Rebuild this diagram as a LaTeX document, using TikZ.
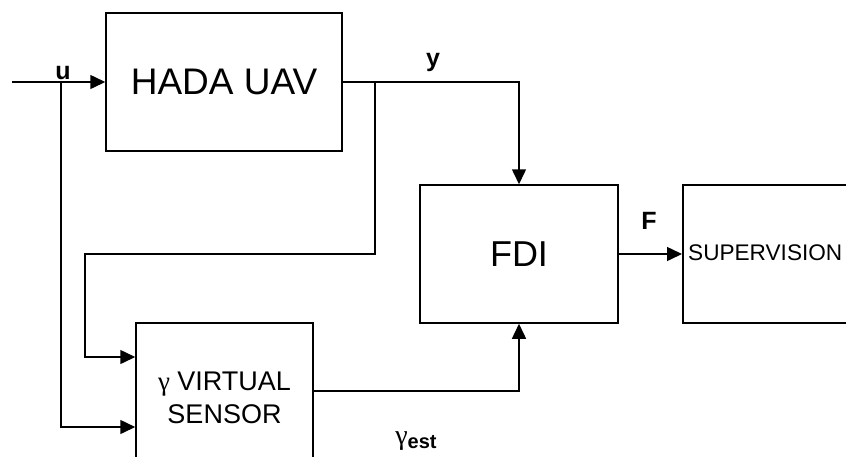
\documentclass[tikz,border=0pt]{standalone}
\usepackage{fontspec}
\setmainfont{Liberation Sans}
\newfontfamily\grk{Liberation Serif}
\usetikzlibrary{arrows.meta,calc}
\begin{document}
\begin{tikzpicture}[x=1pt,y=-1pt,
  blk/.style={draw,line width=1.5pt,inner sep=0pt},
  wire/.style={line width=1.5pt},
  arr/.style={wire,-{Triangle[length=15pt,width=14pt]}},
  lbl/.style={font=\fontsize{25}{25}\selectfont\bfseries,inner sep=0pt}]
\useasboundingbox (0,0) rectangle (846,456);
\clip (0,0) rectangle (846,456);
\node[blk,minimum width=236pt,minimum height=138pt,font=\fontsize{37}{37}\selectfont] (hada) at (224,82) {HADA UAV};
\node[blk,minimum width=198pt,minimum height=138pt,font=\fontsize{36}{36}\selectfont] (fdi) at (519,254) {FDI};
\node[blk,minimum width=200pt,minimum height=138pt,anchor=west] (sup) at (682,254) {};
\node[anchor=west,inner sep=0pt,font=\fontsize{22.6}{23}\selectfont] (suptxt) at (688,253) {SUPERVISION};
\node[blk,minimum width=177pt,minimum height=150pt,align=center,font=\fontsize{27}{33}\selectfont] (sens) at (224.5,398) {{\grk γ} VIRTUAL\\SENSOR};
\coordinate (in) at (12,82);
\coordinate (ub) at (61,82);
\coordinate (yb) at (375,82);
\coordinate (sin1) at ([yshift=41pt]sens.west);
\coordinate (sin2) at ([yshift=-29pt]sens.west);
\coordinate (sout) at ([yshift=7pt]sens.east);
\draw[arr] (in) -- (hada.west);
\draw[arr] (hada.east) -| (fdi.north);
\draw[arr] (yb) -- (375,254) -- (85,254) |- (sin1);
\draw[arr] (ub) |- (sin2);
\draw[arr] (sout) -| (fdi.south);
\draw[arr] (fdi.east) -- (sup.west);
\node[lbl] (ulbl) at (63,73) {u};
\node[lbl] (ylbl) at (433,62) {y};
\node[lbl] (flbl) at (649,221) {F};
\node[inner sep=0pt,anchor=base] (glbl) at (416,444) {{\grk\fontsize{28}{28}\selectfont γ}\raisebox{-4pt}{\fontsize{20}{20}\selectfont\bfseries est}};
\end{tikzpicture}
\end{document}
